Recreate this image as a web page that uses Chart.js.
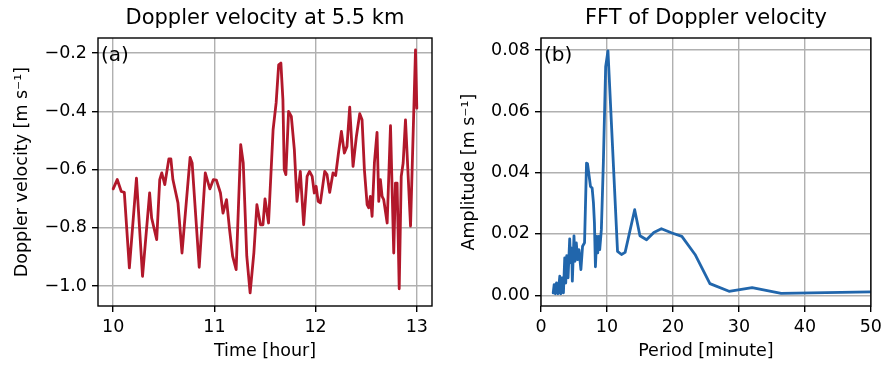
<!DOCTYPE html>
<html>
<head>
<meta charset="utf-8">
<script src="https://cdn.jsdelivr.net/npm/chart.js@4.4.1/dist/chart.umd.min.js"></script>
<style>
  html, body { margin: 0; padding: 0; background: #fff; overflow: hidden; }
  #wrap { position: relative; width: 887px; height: 365px; }
  canvas { position: absolute; top: 0; }
</style>
</head>
<body>
<div id="wrap">
  <canvas id="velChart" width="445" height="365" style="left:0"></canvas>
  <canvas id="fftChart" width="442" height="365" style="left:445px"></canvas>
</div>
<script>
// panel (a): Doppler velocity time series
const timeHours = [10.00, 10.04, 10.08, 10.11, 10.16, 10.23, 10.29, 10.36, 10.38, 10.43,
  10.46, 10.48, 10.51, 10.55, 10.57, 10.59, 10.64, 10.68, 10.76, 10.78,
  10.85, 10.91, 10.955, 10.99, 11.02, 11.06, 11.085, 11.12, 11.15, 11.18,
  11.215, 11.26, 11.285, 11.32, 11.353, 11.39, 11.42, 11.455, 11.48, 11.50,
  11.535, 11.58, 11.61, 11.635, 11.657, 11.677, 11.69, 11.706, 11.733, 11.76,
  11.79, 11.816, 11.849, 11.882, 11.916, 11.94, 11.966, 11.987, 12.005, 12.025,
  12.047, 12.074, 12.09, 12.113, 12.139, 12.172, 12.198, 12.228, 12.255, 12.284,
  12.31, 12.337, 12.37, 12.403, 12.436, 12.459, 12.482, 12.509, 12.525, 12.541,
  12.558, 12.581, 12.607, 12.624, 12.64, 12.657, 12.673, 12.707, 12.74, 12.772,
  12.789, 12.805, 12.826, 12.846, 12.865, 12.888, 12.938, 12.987, 13.0];
const velocity = [-0.666, -0.634, -0.675, -0.678, -0.937, -0.629, -0.966, -0.680, -0.766, -0.840,
  -0.634, -0.611, -0.651, -0.563, -0.563, -0.634, -0.714, -0.886, -0.558, -0.577,
  -0.935, -0.611, -0.666, -0.634, -0.636, -0.680, -0.749, -0.703, -0.806, -0.897,
  -0.943, -0.514, -0.577, -0.897, -1.023, -0.886, -0.720, -0.789, -0.789, -0.700,
  -0.783, -0.463, -0.371, -0.240, -0.234, -0.360, -0.600, -0.617, -0.400, -0.417,
  -0.531, -0.709, -0.606, -0.789, -0.623, -0.606, -0.623, -0.680, -0.657, -0.709,
  -0.714, -0.646, -0.606, -0.617, -0.678, -0.611, -0.620, -0.537, -0.469, -0.543,
  -0.520, -0.385, -0.589, -0.486, -0.408, -0.429, -0.600, -0.720, -0.731, -0.692,
  -0.760, -0.577, -0.472, -0.709, -0.634, -0.692, -0.703, -0.783, -0.449, -0.886,
  -0.646, -0.646, -1.009, -0.623, -0.577, -0.429, -0.794, -0.189, -0.389];

// panel (b): FFT amplitude vs period
const periodMin = [1.85, 2.0, 2.2, 2.35, 2.6, 2.85, 3.0, 3.2, 3.4, 3.6,
  3.75, 3.9, 4.1, 4.35, 4.5, 4.65, 4.75, 5.0, 5.15, 5.35,
  5.55, 5.75, 6.05, 6.3, 6.6, 6.9, 7.05, 7.5, 7.75, 7.95,
  8.1, 8.25, 8.45, 8.6, 8.75, 8.9, 9.15, 9.45, 9.8, 10.15,
  11.6, 12.2, 12.75, 14.2, 15.0, 16.0, 17.1, 18.25, 19.85, 21.35,
  23.35, 25.6, 28.5, 32.0, 36.4, 50.0];
const amplitude = [0.0008, 0.0035, 0.0005, 0.0040, 0.0005, 0.0062, 0.0005, 0.0057, 0.0008, 0.0122,
  0.0040, 0.0129, 0.0057, 0.0184, 0.0106, 0.0154, 0.0046, 0.0194, 0.0111, 0.0171,
  0.0116, 0.0149, 0.0084, 0.0160, 0.0171, 0.0431, 0.0429, 0.0355, 0.0350, 0.0301,
  0.0236, 0.0093, 0.0192, 0.0138, 0.0192, 0.0149, 0.0214, 0.0431, 0.0745, 0.0797,
  0.0143, 0.0133, 0.0140, 0.0279, 0.0194, 0.0181, 0.0205, 0.0217, 0.0203, 0.0192,
  0.0133, 0.0038, 0.0013, 0.0025, 0.0006, 0.0011];

const velXTicks = [10, 11, 12, 13];
const velYTicks = [-1.0, -0.8, -0.6, -0.4, -0.2];
const fftXTicks = [0, 10, 20, 30, 40, 50];
const fftYTicks = [0, 0.02, 0.04, 0.06, 0.08];

Chart.defaults.font.family = '"DejaVu Sans", sans-serif';
Chart.defaults.color = '#000';

const minus = s => s.replace('-', '\u2212');

// black frame + panel letter, like matplotlib spines
const panelDecor = {
  id: 'panelDecor',
  afterDatasetsDraw(chart, args, opts) {
    const { ctx, chartArea: a } = chart;
    ctx.save();
    ctx.strokeStyle = '#000';
    ctx.lineWidth = 1.4;
    ctx.strokeRect(a.left, a.top, a.right - a.left, a.bottom - a.top);
    ctx.font = '20px "DejaVu Sans"';
    ctx.fillStyle = '#000';
    ctx.textBaseline = 'middle';
    ctx.textAlign = 'left';
    ctx.fillText(opts.letter, a.left + 3, a.top + 18);
    ctx.restore();
  }
};

function axis(min, max, tickVals, fmt, label, isX, fitSize, titlePad) {
  return {
    type: 'linear',
    min: min,
    max: max,
    border: { display: false },
    grid: { color: '#b0b0b0', lineWidth: 1.4, tickColor: '#000', tickWidth: 1.4, tickLength: 6 },
    ticks: { font: { size: 17.5 }, padding: 5, maxRotation: 0, callback: v => minus(fmt(v)) },
    afterBuildTicks: s => { s.ticks = tickVals.map(v => ({ value: v })); },
    afterFit: s => { if (isX) s.height = fitSize; else s.width = fitSize; },
    title: { display: true, text: label, font: { size: 17.5 }, padding: titlePad }
  };
}

function makeChart(id, xs, ys, color, title, letter, scales) {
  return new Chart(document.getElementById(id), {
    type: 'line',
    data: {
      datasets: [{
        data: xs.map((x, i) => ({ x: x, y: ys[i] })),
        borderColor: color,
        borderWidth: 2.8,
        borderJoinStyle: 'round',
        borderCapStyle: 'round',
        pointRadius: 0,
        tension: 0,
        fill: false
      }]
    },
    options: {
      responsive: false,
      devicePixelRatio: 1,
      animation: false,
      layout: { padding: { left: 0, right: 13, top: 0, bottom: 0 } },
      plugins: {
        legend: { display: false },
        tooltip: { enabled: false },
        title: { display: true, text: title, fullSize: false, font: { size: 21, weight: 'normal' }, padding: { top: 6, bottom: 6.8 } },
        panelDecor: { letter: letter }
      },
      scales: scales
    },
    plugins: [panelDecor]
  });
}

makeChart('velChart', timeHours, velocity, '#b2182b', 'Doppler velocity at 5.5 km', '(a)', {
  x: axis(9.85, 13.15, velXTicks, v => String(v), 'Time [hour]', true, 59, { top: 0, bottom: 3.5 }),
  y: axis(-1.068, -0.148, velYTicks, v => v.toFixed(1), 'Doppler velocity [m s\u207B\u00B9]', false, 98, { top: 11.5, bottom: 0 })
});

makeChart('fftChart', periodMin, amplitude, '#2166ac', 'FFT of Doppler velocity', '(b)', {
  x: axis(0, 50, fftXTicks, v => String(v), 'Period [minute]', true, 59, { top: 0, bottom: 3.5 }),
  y: axis(-0.0035, 0.0839, fftYTicks, v => v.toFixed(2), 'Amplitude [m s\u207B\u00B9]', false, 96, { top: 13.5, bottom: 0 })
});
</script>
</body>
</html>
